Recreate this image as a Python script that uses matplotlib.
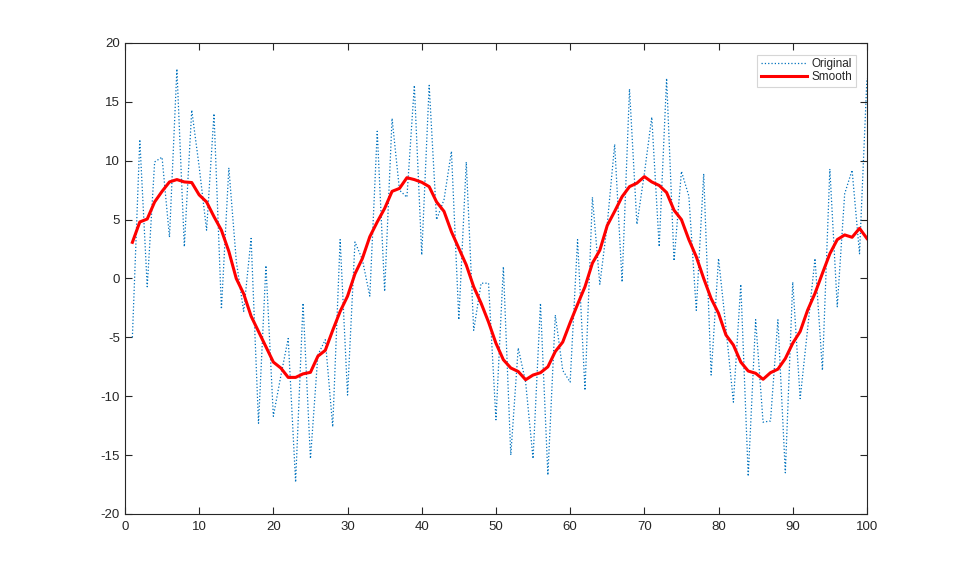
import numpy as np
import matplotlib
matplotlib.use("Agg")
import matplotlib.pyplot as plt

# sample index 1..100
x_vals = np.arange(1, 101)

original = [
    -5.0, 11.8, -0.7, 9.9, 10.3, 3.5, 17.8, 2.7, 14.3, 9.5,
    4.1, 14.0, -2.6, 9.4, 1.5, -2.8, 3.4, -12.3, 1.1, -11.7,
    -8.3, -5.1, -17.3, -2.1, -15.3, -6.5, -5.2, -12.6, 3.3, -9.9,
    3.1, 1.6, -1.5, 12.5, -1.1, 13.6, 7.5, 6.9, 16.4, 2.0,
    16.4, 5.0, 6.7, 10.8, -3.5, 9.9, -4.4, -0.4, -0.4, -12.0,
    1.0, -15.0, -5.9, -8.8, -15.3, -2.1, -16.7, -3.1, -7.8, -8.8,
    3.3, -9.5, 6.9, -0.5, 4.6, 11.4, -0.3, 16.1, 4.6, 8.9,
    13.7, 2.7, 17.0, 1.5, 9.1, 7.0, -2.7, 8.9, -8.2, 1.7,
    -4.2, -10.5, -0.5, -16.8, -3.5, -12.2, -12.1, -3.5, -16.5, -0.3,
    -10.2, -4.3, 1.7, -7.8, 9.3, -2.4, 7.2, 9.2, 2.1, 17.0,
]

smooth = [
    3.07, 4.8, 5.05, 6.5, 7.4, 8.2, 8.4, 8.2, 8.15, 7.1,
    6.5, 5.25, 4.1, 2.3, 0.0, -1.3, -3.2, -4.5, -5.8, -7.1,
    -7.6, -8.4, -8.4, -8.1, -7.97, -6.6, -6.1, -4.4, -2.8, -1.5,
    0.4, 1.7, 3.55, 4.8, 5.95, 7.4, 7.65, 8.56, 8.4, 8.17,
    7.8, 6.5, 5.7, 3.97, 2.56, 1.15, -0.7, -2.1, -3.7, -5.5,
    -6.9, -7.6, -7.9, -8.6, -8.2, -8.0, -7.5, -6.2, -5.4, -3.75,
    -2.2, -0.7, 1.3, 2.4, 4.5, 5.7, 6.95, 7.8, 8.1, 8.65,
    8.2, 7.9, 7.3, 5.8, 5.0, 3.3, 1.85, 0.0, -1.7, -2.96,
    -4.8, -5.65, -7.1, -7.86, -8.05, -8.56, -8.0, -7.7, -6.8, -5.5,
    -4.5, -2.7, -1.26, 0.44, 2.1, 3.3, 3.7, 3.5, 4.26, 3.4,
]

x_ticks = list(range(0, 101, 10))
y_ticks = list(range(-20, 21, 5))

plt.rcParams["font.family"] = ["Liberation Sans", "DejaVu Sans"]
plt.rcParams["axes.unicode_minus"] = False
axis_color = (0.15, 0.15, 0.15)

fig = plt.figure(figsize=(9.59, 5.77), dpi=100)
ax = fig.add_axes([0.1303, 0.1092, 0.7737, 0.8163])

# --- lines ---
ax.plot(x_vals, original, linestyle=":", color=(0.0, 0.447, 0.741),
        linewidth=0.9, label="Original")
ax.plot(x_vals, smooth, linestyle="-", color="red", linewidth=2.2,
        label="Smooth")

# --- axes styling (matlab-ish box) ---
ax.set_xlim(0, 100)
ax.set_ylim(-20, 20)
ax.set_xticks(x_ticks)
ax.set_yticks(y_ticks)
ax.tick_params(direction="in", top=True, right=True, length=5,
               width=0.8, colors=axis_color, labelsize=9.5,
               labelcolor=axis_color)
ax.tick_params(axis="x", pad=5)
for side in ["top", "right", "bottom", "left"]:
    ax.spines[side].set_color(axis_color)
    ax.spines[side].set_linewidth(0.8)

leg = ax.legend(loc="upper right", fontsize=8.5, frameon=True,
                fancybox=False, borderpad=0.3, handlelength=3.9,
                handletextpad=0.4, labelspacing=0.12,
                bbox_to_anchor=(0.993, 0.988))
leg.get_frame().set_edgecolor((0.8, 0.8, 0.8))
leg.get_frame().set_linewidth(0.8)
for t in leg.get_texts():
    t.set_color(axis_color)

fig.savefig("out.png", dpi=100)
